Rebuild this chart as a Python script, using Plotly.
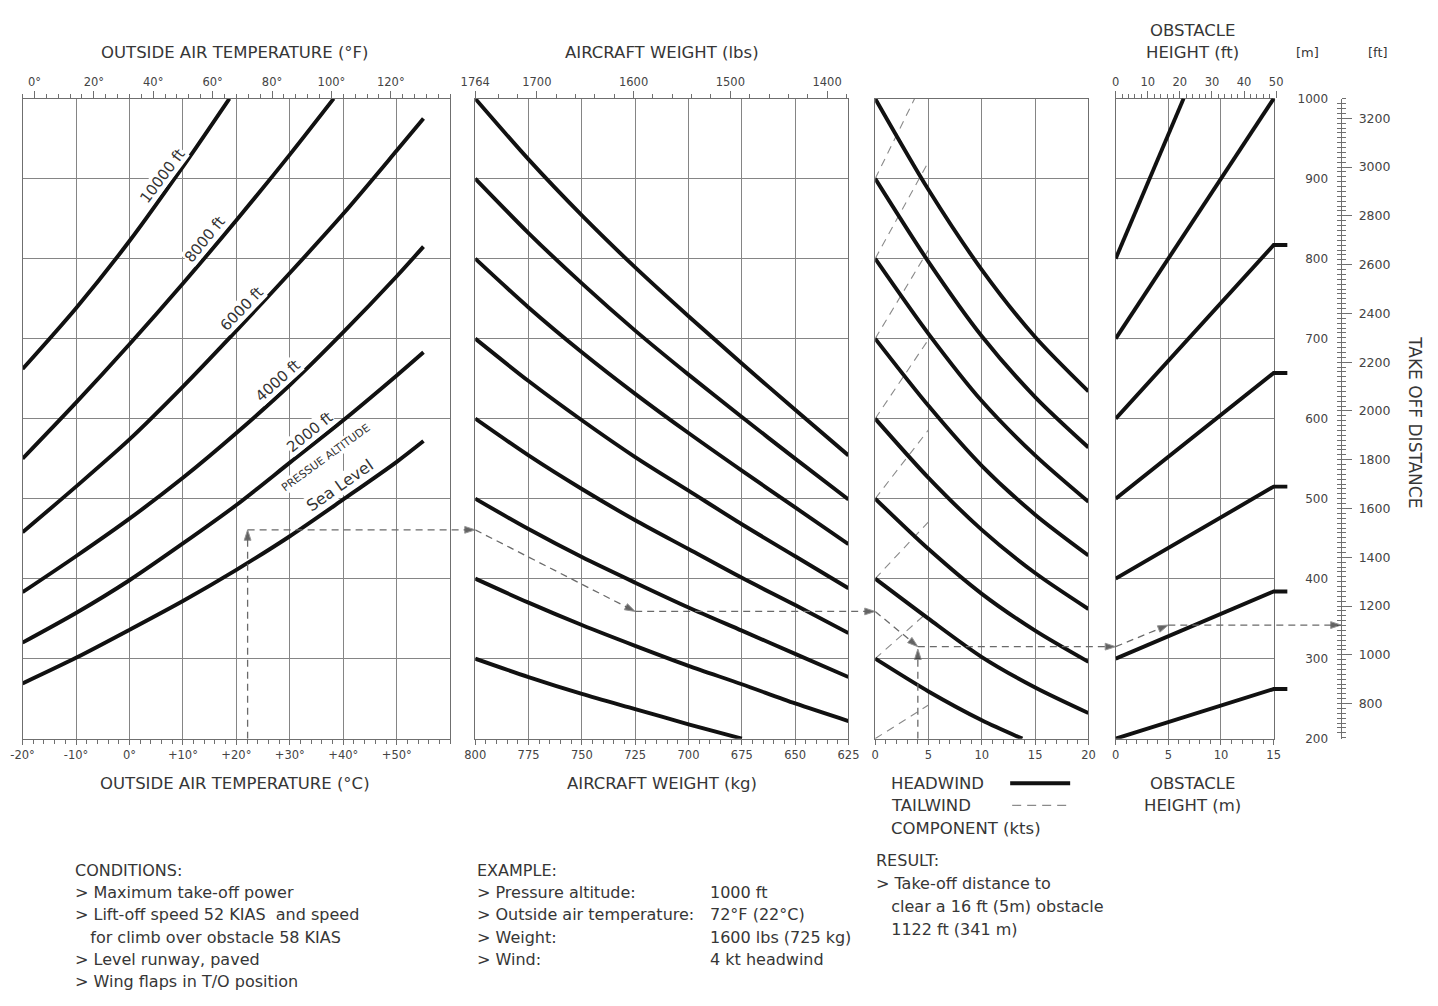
import plotly.graph_objects as go

W, H = 1438, 1006

# ---------------- data ----------------
# Panel 1: outside air temperature (deg C) vs pressure altitude curves (take-off distance, m)
OAT_C = [-20, -10, 0, 10, 20, 30, 40, 50, 55]
PA_SL = [269, 301, 336, 372, 411, 453, 499, 546, 572]
PA_2000 = [320, 357, 398, 444, 492, 545, 598, 654, 683]
PA_4000 = [383, 428, 475, 526, 582, 642, 708, 778, 815]
PA_6000 = [458, 515, 574, 640, 710, 782, 856, 935, 975]
OAT_C_8000 = [-20, -10, 0, 10, 20, 30, 38.2]
PA_8000 = [550, 620, 693, 769, 848, 930, 1000]
OAT_C_10000 = [-20, -10, 0, 10, 18.7]
PA_10000 = [662, 738, 822, 915, 1000]

PA_LABELS = ["10000 ft", "8000 ft", "6000 ft", "4000 ft", "2000 ft", "PRESSUE ALTITUDE", "Sea Level"]
PA_LABEL_C = [6.2, 14.2, 21.0, 27.7, 33.8, 36.8, 39.3]
PA_LABEL_M = [903, 824, 737, 647, 583, 551, 517]

# Panel 2: aircraft weight (kg) guide lines
WEIGHT_KG = [800, 775, 750, 725, 700, 675, 650, 625]
WT_1000 = [1000, 924, 854, 789, 728, 669, 611, 554]
WT_900 = [900, 832, 769, 710, 655, 602, 550, 499]
WT_800 = [800, 739, 683, 631, 582, 535, 489, 443]
WT_700 = [700, 647, 598, 552, 510, 468, 428, 388]
WT_600 = [600, 554, 512, 473, 437, 401, 367, 332]
WT_500 = [500, 462, 427, 395, 364, 335, 306, 277]
WT_400 = [400, 370, 342, 316, 291, 268, 244, 222]
WEIGHT_KG_300 = [800, 775, 750, 725, 700, 675]
WT_300 = [300, 277, 256, 237, 218, 200]

# Panel 3: wind component (kts) - headwind guide lines
WIND_KT = [0, 5, 10, 15, 20]
HW_1000 = [1000, 886, 786, 702, 634]
HW_900 = [900, 796, 703, 627, 564]
HW_800 = [800, 706, 622, 554, 496]
HW_700 = [700, 616, 541, 480, 429]
HW_600 = [600, 526, 461, 407, 362]
HW_500 = [500, 437, 381, 335, 296]
HW_400 = [400, 350, 302, 264, 232]
WIND_KT_300 = [0, 5, 10, 13.8]
HW_300 = [300, 259, 223, 200]
# tailwind guide lines (dashed)
TW_KT = [0, 5]
TW_KT_900 = [0, 3.7]
TW_900 = [900, 1000]
TW_800 = [800, 921]
TW_700 = [700, 811]
TW_600 = [600, 699]
TW_500 = [500, 586]
TW_400 = [400, 471]
TW_300 = [300, 359]
TW_200 = [200, 242]

# Panel 4: obstacle height (m) guide lines
OBS_M = [0, 15, 16.3]
OB_200 = [200, 262, 262]
OB_300 = [300, 384, 384]
OB_400 = [400, 515, 515]
OB_500 = [500, 657, 657]
OB_600 = [600, 817, 817]
OBS_M_700 = [0, 15]
OB_700 = [700, 1000]
OBS_M_800 = [0, 6.45]
OB_800 = [800, 1000]

# Worked example
EX_OAT_C = 22.1
EX_PA_M = 461          # 1000 ft pressure altitude at 22 C
EX_WEIGHT_KG = 725
EX_WEIGHT_M = 359
EX_WIND_KT = 4
EX_WIND_M = 315
EX_OBS_M = 5
EX_RESULT_M = 342      # 1122 ft

# Tick values / labels
C_TICKS = [-20, -10, 0, 10, 20, 30, 40, 50]
C_LABELS = ["-20°", "-10°", "0°", "+10°", "+20°", "+30°", "+40°", "+50°"]
F_TICKS = [0, 20, 40, 60, 80, 100, 120]
F_LABELS = ["0°", "20°", "40°", "60°", "80°", "100°", "120°"]
KG_TICKS = [800, 775, 750, 725, 700, 675, 650, 625]
LBS_TICKS = [800 / 0.45359237, 1700, 1600, 1500, 1400]
LBS_LABELS = ["1764", "1700", "1600", "1500", "1400"]
KT_TICKS = [0, 5, 10, 15, 20]
OBS_M_TICKS = [0, 5, 10, 15]
OBS_FT_TICKS = [0, 10, 20, 30, 40, 50]
M_TICKS = [200, 300, 400, 500, 600, 700, 800, 900, 1000]
FT_TICKS = [800, 1000, 1200, 1400, 1600, 1800, 2000, 2200, 2400, 2600, 2800, 3000, 3200]

# ---------------- layout helpers ----------------
# calibration of the photographed page (measured on an earlier render)
X_OFF, X_SCALE = 14.75, 0.982
Y_OFF, Y_SCALE = 6.7, 0.986


def X(p):
    return (p - X_OFF) / X_SCALE / W


def Y(p):
    return 1 - (p - Y_OFF) / Y_SCALE / H


Y_DOM = [Y(738.3), Y(98.3)]
P1 = (22.3, 450.0)
P2 = (475.0, 848.3)
P3 = (875.0, 1088.3)
P4 = (1115.5, 1273.5)
EXT1, EXT2, EXT3, EXT4 = 475.0, 875.0, 1115.5, 1341.0

R1 = [-20, 60]
R2 = [800, 625]
R3 = [0, 20]
R4 = [0, 15]


def ext_range(r, left, right, ext):
    return [r[0], r[0] + (r[1] - r[0]) * (ext - left) / (right - left)]


FONT = "DejaVu Sans"
TXT = "#363636"
GRID = "#858585"
FRAME = "#6f6f6f"
CURVE = "#111111"
DASH = "#6a6a6a"
LW = 3.9

fig = go.Figure()


def curve(xs, ys, xa, ya="y", width=LW, color=CURVE, dash=None, shape="spline"):
    fig.add_trace(go.Scatter(x=xs, y=ys, xaxis=xa, yaxis=ya, mode="lines",
                             line=dict(color=color, width=width, dash=dash, shape=shape,
                                       smoothing=0.8),
                             hoverinfo="skip", showlegend=False))


def path(xs, ys, xa, ya="y2"):
    sizes = [0] * (len(xs) - 1) + [11]
    fig.add_trace(go.Scatter(x=xs, y=ys, xaxis=xa, yaxis=ya, mode="lines+markers",
                             line=dict(color=DASH, width=1.3, dash="7px,5px"),
                             marker=dict(symbol="arrow", size=sizes, angleref="previous",
                                         color="#222222"),
                             hoverinfo="skip", showlegend=False))


def dummy(xa, ya):
    fig.add_trace(go.Scatter(x=[None], y=[None], xaxis=xa, yaxis=ya, mode="markers",
                             hoverinfo="skip", showlegend=False))


# Panel 1 curves
curve(OAT_C, PA_SL, "x")
curve(OAT_C, PA_2000, "x")
curve(OAT_C, PA_4000, "x")
curve(OAT_C, PA_6000, "x")
curve(OAT_C_8000, PA_8000, "x")
curve(OAT_C_10000, PA_10000, "x")

# Panel 2 curves
for ys in [WT_1000, WT_900, WT_800, WT_700, WT_600, WT_500, WT_400]:
    curve(WEIGHT_KG, ys, "x2")
curve(WEIGHT_KG_300, WT_300, "x2")

# Panel 3 curves
for ys in [TW_800, TW_700, TW_600, TW_500, TW_400, TW_300, TW_200]:
    curve(TW_KT, ys, "x3", width=1.1, color="#8a8a8a", dash="8px,6px", shape="linear")
curve(TW_KT_900, TW_900, "x3", width=1.1, color="#8a8a8a", dash="8px,6px", shape="linear")
for ys in [HW_1000, HW_900, HW_800, HW_700, HW_600, HW_500, HW_400]:
    curve(WIND_KT, ys, "x3")
curve(WIND_KT_300, HW_300, "x3")

# Panel 4 curves (helper axis so the end stubs can leave the frame)
dummy("x4", "y")
for ys in [OB_200, OB_300, OB_400, OB_500, OB_600]:
    curve(OBS_M, ys, "x11", "y2", shape="linear")
curve(OBS_M_700, OB_700, "x11", "y2", shape="linear")
curve(OBS_M_800, OB_800, "x11", "y2", shape="linear")

# secondary scales
dummy("x5", "y")
dummy("x6", "y")
dummy("x7", "y2")
dummy("x", "y3")
dummy("x", "y4")
dummy("x", "y5")

# Worked example path
RH1 = ext_range(R1, P1[0], P1[1], EXT1)
RH2 = ext_range(R2, P2[0], P2[1], EXT2)
RH3 = ext_range(R3, P3[0], P3[1], EXT3)
RH4 = ext_range(R4, P4[0], P4[1], EXT4)

path([EX_OAT_C, EX_OAT_C], [200, EX_PA_M], "x8")
path([EX_OAT_C, RH1[1]], [EX_PA_M, EX_PA_M], "x8")
path([R2[0], EX_WEIGHT_KG], [EX_PA_M, EX_WEIGHT_M], "x9")
path([EX_WEIGHT_KG, RH2[1]], [EX_WEIGHT_M, EX_WEIGHT_M], "x9")
path([R3[0], EX_WIND_KT], [EX_WEIGHT_M, EX_WIND_M], "x10")
path([EX_WIND_KT, EX_WIND_KT], [200, EX_WIND_M - 3], "x10")
path([EX_WIND_KT, RH3[1]], [EX_WIND_M, EX_WIND_M], "x10")
path([R4[0], EX_OBS_M], [EX_WIND_M, EX_RESULT_M], "x11")
path([EX_OBS_M, RH4[1]], [EX_RESULT_M, EX_RESULT_M], "x11")

tickfont = dict(family=FONT, size=11.5, color="#444444")


def panel_x(dom, rng, tickvals, ticktext=None, minor_dtick=1, minor_tick0=0):
    d = dict(domain=[X(dom[0]), X(dom[1])], range=rng, anchor="y",
             tickmode="array", tickvals=tickvals, ticks="outside", ticklen=5,
             tickcolor=FRAME, tickwidth=1, tickfont=tickfont,
             showgrid=True, gridcolor=GRID, gridwidth=1, zeroline=False,
             showline=True, linecolor=FRAME, linewidth=1.2, mirror=True,
             minor=dict(ticks="outside", ticklen=4, dtick=minor_dtick, tick0=minor_tick0,
                        tickcolor=FRAME, showgrid=False),
             fixedrange=True)
    if ticktext is not None:
        d["ticktext"] = ticktext
    return d


def hidden_x(dom_left, dom_right, rng):
    return dict(domain=[X(dom_left), X(dom_right)], range=rng, anchor="y2",
                visible=False, fixedrange=True)


layout = dict(
    width=W, height=H, margin=dict(l=0, r=0, t=0, b=0),
    paper_bgcolor="white", plot_bgcolor="rgba(0,0,0,0)",
    font=dict(family=FONT, color=TXT),
    showlegend=False,
    xaxis=panel_x(P1, R1, C_TICKS, C_LABELS, 2, -20),
    xaxis2=panel_x(P2, R2, KG_TICKS, None, 5, 625),
    xaxis3=panel_x(P3, R3, KT_TICKS, None, 1, 0),
    xaxis4=panel_x(P4, R4, OBS_M_TICKS, None, 1, 0),
    xaxis5=dict(overlaying="x", side="top", anchor="y",
                range=[R1[0] * 9 / 5 + 32, R1[1] * 9 / 5 + 32],
                tickmode="array", tickvals=F_TICKS, ticktext=F_LABELS,
                ticks="outside", ticklen=7, tickcolor=FRAME, tickfont=tickfont,
                showgrid=False, showline=False, zeroline=False,
                minor=dict(ticks="outside", ticklen=4, dtick=4, tick0=0, tickcolor=FRAME),
                fixedrange=True),
    xaxis6=dict(overlaying="x2", side="top", anchor="y",
                range=[R2[0] / 0.45359237, R2[1] / 0.45359237],
                tickmode="array", tickvals=LBS_TICKS, ticktext=LBS_LABELS,
                ticks="outside", ticklen=7, tickcolor=FRAME, tickfont=tickfont,
                showgrid=False, showline=False, zeroline=False,
                minor=dict(ticks="outside", ticklen=4, tickmode="array",
                           tickvals=list(range(1380, 1760, 20)), tickcolor=FRAME),
                fixedrange=True),
    xaxis7=dict(domain=[X(P4[0]), X(P4[0] + (P4[1] - P4[0]) * 50.6 / (15 / 0.3048))],
                range=[0, 50.6], side="top", anchor="y2",
                tickmode="array", tickvals=OBS_FT_TICKS,
                ticks="outside", ticklen=7, tickcolor=FRAME, tickfont=tickfont,
                showgrid=False, showline=False, zeroline=False,
                minor=dict(ticks="outside", ticklen=4, dtick=2, tick0=0, tickcolor=FRAME),
                fixedrange=True),
    xaxis8=hidden_x(P1[0], EXT1, RH1),
    xaxis9=hidden_x(P2[0], EXT2, RH2),
    xaxis10=hidden_x(P3[0], EXT3, RH3),
    xaxis11=hidden_x(P4[0], EXT4, RH4),
    yaxis=dict(domain=Y_DOM, range=[200, 1000], anchor="x",
               tickmode="array", tickvals=M_TICKS, showticklabels=False, ticks="",
               showgrid=True, gridcolor=GRID, gridwidth=1, zeroline=False,
               showline=True, linecolor=FRAME, linewidth=1.2, mirror="all",
               fixedrange=True),
    yaxis2=dict(domain=Y_DOM, range=[200, 1000], anchor="x8", visible=False,
                fixedrange=True),
    yaxis3=dict(overlaying="y", anchor="free", position=X(1328), side="left",
                range=[200, 1000], tickmode="array", tickvals=M_TICKS,
                ticks="", tickfont=dict(family=FONT, size=12, color="#444444"),
                showgrid=False, showline=False, zeroline=False, fixedrange=True),
    yaxis4=dict(overlaying="y", anchor="free", position=X(1341), side="right",
                range=[200 / 0.3048, 1000 / 0.3048], tickmode="array", tickvals=FT_TICKS,
                ticks="outside", ticklen=10, tickcolor=FRAME, ticklabelstandoff=4,
                tickfont=dict(family=FONT, size=12.5, color="#444444"),
                showgrid=False, showline=True, linecolor=FRAME, linewidth=1, zeroline=False,
                minor=dict(ticks="outside", ticklen=4, dtick=20, tick0=0, tickcolor=FRAME),
                fixedrange=True),
    yaxis5=dict(overlaying="y", anchor="free", position=X(1341), side="right",
                range=[200 / 0.3048, 1000 / 0.3048], tickmode="array", tickvals=FT_TICKS,
                ticks="inside", ticklen=4, tickcolor=FRAME, showticklabels=False,
                showgrid=False, showline=False, zeroline=False,
                minor=dict(ticks="inside", ticklen=4, dtick=20, tick0=0, tickcolor=FRAME),
                fixedrange=True),
)
fig.update_layout(**layout)

ann = []
# curve labels in panel 1
PA_ANGLES = [-53, -51, -46, -42, -39, -36, -35]
PA_SIZES = [15, 15, 15, 15, 15, 11, 16]
for t, cx, cy, a, s in zip(PA_LABELS, PA_LABEL_C, PA_LABEL_M, PA_ANGLES, PA_SIZES):
    ann.append(dict(x=cx, y=cy, xref="x", yref="y", text=t, showarrow=False,
                    textangle=a, bgcolor="white", borderpad=0,
                    font=dict(family=FONT, size=s, color="#333333")))


def text(t, x, y, size=16, anchor="left"):
    ann.append(dict(x=X(x), y=Y(y), xref="paper", yref="paper", text=t, showarrow=False,
                    xanchor=anchor, yanchor="middle",
                    font=dict(family=FONT, size=size, color=TXT)))


TS = 16.5
text("OUTSIDE AIR TEMPERATURE (°F)", 235, 52, TS, "center")
text("AIRCRAFT WEIGHT (lbs)", 662, 52, TS, "center")
text("OBSTACLE", 1192, 30, TS, "center")
text("HEIGHT (ft)", 1192, 52, TS, "center")
text("[m]", 1307, 52, 13, "center")
text("[ft]", 1378, 52, 13, "center")
text("OUTSIDE AIR TEMPERATURE (°C)", 235, 783, TS, "center")
text("AIRCRAFT WEIGHT (kg)", 662, 783, TS, "center")
text("HEADWIND", 889, 783, TS)
text("TAILWIND", 889, 805, TS)
text("COMPONENT (kts)", 889, 828, TS)
text("OBSTACLE", 1192, 783, TS, "center")
text("HEIGHT (m)", 1192, 805, TS, "center")

COND_LINES = ["CONDITIONS:", "> Maximum take-off power", "> Lift-off speed 52 KIAS  and speed",
              "   for climb over obstacle 58 KIAS", "> Level runway, paved",
              "> Wing flaps in T/O position"]
for i, t in enumerate(COND_LINES):
    text(t, 73, 870 + i * 22.3)

EX_LINES = ["EXAMPLE:", "> Pressure altitude:", "> Outside air temperature:", "> Weight:", "> Wind:"]
EX_VALUES = ["", "1000 ft", "72°F (22°C)", "1600 lbs (725 kg)", "4 kt headwind"]
for i, (t, v) in enumerate(zip(EX_LINES, EX_VALUES)):
    text(t, 475, 870 + i * 22.3)
    if v:
        text(v, 708, 870 + i * 22.3)

RES_LINES = ["RESULT:", "> Take-off distance to", "   clear a 16 ft (5m) obstacle", "   1122 ft (341 m)"]
for i, t in enumerate(RES_LINES):
    text(t, 874, 860 + i * 23)

ann.append(dict(x=X(1415), y=Y(422), xref="paper", yref="paper", text="TAKE OFF DISTANCE",
                showarrow=False, textangle=90, xanchor="center", yanchor="middle",
                font=dict(family=FONT, size=17, color=TXT)))

fig.update_layout(annotations=ann)

# legend samples
fig.add_shape(type="line", xref="paper", yref="paper", x0=X(1010), x1=X(1070), y0=Y(783), y1=Y(783),
              line=dict(color=CURVE, width=4))
fig.add_shape(type="line", xref="paper", yref="paper", x0=X(1012), x1=X(1068), y0=Y(805), y1=Y(805),
              line=dict(color="#8a8a8a", width=1.2, dash="9px,6px"))

fig.write_html("out.html", config={"displayModeBar": False},
               post_script="document.body.style.margin='0';")
